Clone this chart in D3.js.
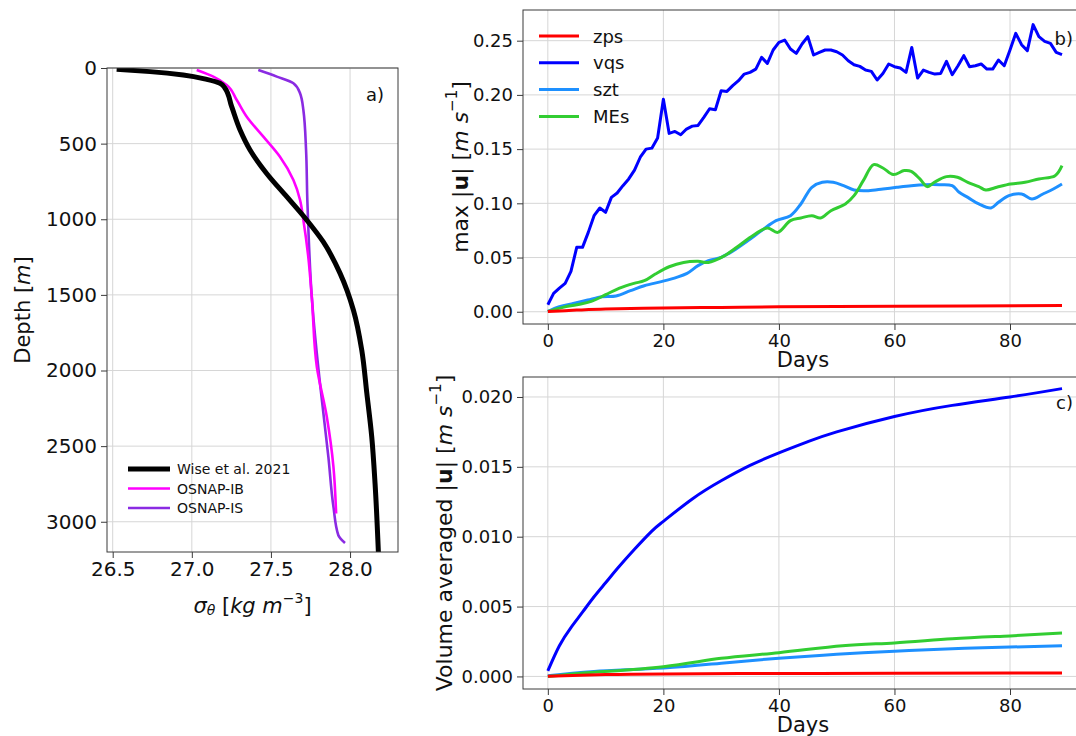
<!DOCTYPE html>
<html>
<head>
<meta charset="utf-8">
<script src="https://cdn.jsdelivr.net/npm/d3@7"></script>
<style>
  html, body { margin: 0; padding: 0; background: #fff; }
  svg { display: block; font-family: "DejaVu Sans", sans-serif; }
</style>
</head>
<body>
<svg id="fig" width="1076" height="736"></svg>
<script>
// ---------- panel a: density profiles ----------
const depthTicks = [0, 500, 1000, 1500, 2000, 2500, 3000];
const sigmaTicks = [26.5, 27.0, 27.5, 28.0];

const wiseSigma = [26.525, 26.736, 26.946, 27.094, 27.178, 27.21, 27.252, 27.305, 27.368, 27.473, 27.6, 27.726, 27.831, 27.937, 28.021, 28.074, 28.106, 28.137, 28.158, 28.179];
const wiseDepth = [9, 24, 46, 75, 101, 134, 256, 410, 542, 697, 851, 1005, 1150, 1358, 1600, 1865, 2151, 2438, 2747, 3200];

const ibSigma = [27.031, 27.136, 27.22, 27.284, 27.347, 27.452, 27.557, 27.642, 27.684, 27.705, 27.736, 27.758, 27.79, 27.853, 27.895, 27.912];
const ibDepth = [13, 57, 112, 212, 322, 454, 587, 741, 873, 1005, 1248, 1512, 1975, 2306, 2637, 2945];

const isSigma = [27.42, 27.537, 27.642, 27.684, 27.705, 27.722, 27.73, 27.736, 27.758, 27.768, 27.81, 27.863, 27.895, 27.926, 27.968];
const isDepth = [13, 57, 101, 167, 278, 542, 873, 1050, 1512, 1645, 2085, 2571, 2901, 3089, 3140];

const profileNames = ["Wise et al. 2021", "OSNAP-IB", "OSNAP-IS"];

// ---------- panels b and c: time series ----------
const dayTicks = [0, 20, 40, 60, 80];
const maxTicks = [0.00, 0.05, 0.10, 0.15, 0.20, 0.25];
const volTicks = [0.000, 0.005, 0.010, 0.015, 0.020];
const seriesNames = ["zps", "vqs", "szt", "MEs"];

// daily maximum speed, vqs (days 0..89)
const vqsMax = [0.0065, 0.0169, 0.0218, 0.0262, 0.0372, 0.0594, 0.0594, 0.0732, 0.0886, 0.0957,
  0.0917, 0.1055, 0.1095, 0.1163, 0.1225, 0.1306, 0.1425, 0.1500, 0.1509, 0.1602,
  0.1960, 0.1645, 0.1663, 0.1632, 0.1685, 0.1712, 0.1718, 0.1792, 0.1872, 0.1863,
  0.2038, 0.2032, 0.2085, 0.2131, 0.2192, 0.2208, 0.2238, 0.2346, 0.2291, 0.2414,
  0.2485, 0.2506, 0.2423, 0.2383, 0.2469, 0.2537, 0.2368, 0.2392, 0.2414, 0.2414,
  0.2398, 0.2368, 0.2315, 0.2278, 0.2263, 0.2229, 0.2217, 0.2137, 0.2198, 0.2285,
  0.2260, 0.2248, 0.2208, 0.2438, 0.2155, 0.2229, 0.2208, 0.2192, 0.2198, 0.2309,
  0.2186, 0.2269, 0.2362, 0.2260, 0.2269, 0.2285, 0.2238, 0.2238, 0.2322, 0.2269,
  0.2414, 0.2568, 0.2463, 0.2408, 0.2648, 0.2537, 0.2494, 0.2475, 0.2392, 0.2371];

const zpsMaxDays = [0, 5, 10, 20, 30, 40, 60, 89];
const zpsMax = [0.0003, 0.0015, 0.0025, 0.0035, 0.0040, 0.0045, 0.0050, 0.0057];

const sztMaxDays = [0, 2, 4.4, 6.9, 9.4, 11.8, 14.3, 16.7, 19.8, 22.3, 24.1, 26, 27.8, 30, 32.1, 34.6, 37, 39.5, 42, 43.8, 45.7, 47.5, 49.4, 51.2, 53, 55.5, 58, 60.4, 62.9, 65.4, 67.8, 70, 71.2, 72.7, 74.6, 76.7, 78, 79.8, 82, 83.8, 85.7, 87.5, 89];
const sztMax = [0.0003, 0.0046, 0.0077, 0.0108, 0.0138, 0.0145, 0.0194, 0.0240, 0.0280, 0.0317, 0.0354, 0.0425, 0.0471, 0.0502, 0.0563, 0.0655, 0.0748, 0.0840, 0.0886, 0.0994, 0.1148, 0.1194, 0.1194, 0.1163, 0.1123, 0.1117, 0.1132, 0.1148, 0.1163, 0.1172, 0.1172, 0.1163, 0.1102, 0.1055, 0.0994, 0.0957, 0.1009, 0.1071, 0.1086, 0.1040, 0.1086, 0.1132, 0.1178];

const mesMaxDays = [0, 2.6, 5, 7.5, 10, 12.4, 14.9, 16.7, 18.6, 21, 23.5, 26, 27.8, 30.3, 32.7, 35.2, 38, 39.8, 42, 43.8, 45.7, 47.2, 49, 51.5, 53, 54.6, 56.4, 58, 59.8, 61.7, 62.9, 64.4, 65.7, 66.9, 69, 70.9, 72.7, 74.6, 75.8, 77.7, 80.1, 82.6, 85, 87.8, 89];
const mesMax = [0.0003, 0.0040, 0.0065, 0.0095, 0.0157, 0.0218, 0.0262, 0.0286, 0.0348, 0.0415, 0.0455, 0.0465, 0.0455, 0.0508, 0.0594, 0.0692, 0.0772, 0.0732, 0.0840, 0.0865, 0.0886, 0.0865, 0.0932, 0.0994, 0.1071, 0.1209, 0.1357, 0.1326, 0.1265, 0.1302, 0.1295, 0.1225, 0.1154, 0.1194, 0.1246, 0.1240, 0.1194, 0.1154, 0.1123, 0.1148, 0.1178, 0.1194, 0.1225, 0.1255, 0.1348];

// volume-averaged speed
const zpsVolDays = [0, 10, 20, 40, 60, 89];
const zpsVol = [0.00002, 0.00013, 0.00018, 0.00021, 0.00023, 0.00025];

const vqsVolDays = [0, 2, 4, 6, 8, 10, 12, 15, 18, 20, 25, 30, 35, 40, 45, 50, 60, 70, 80, 89];
const vqsVol = [0.0004, 0.0022, 0.0035, 0.0046, 0.0057, 0.0067, 0.0077, 0.0091, 0.0104, 0.0111, 0.0127, 0.0140, 0.0151, 0.0160, 0.0168, 0.0175, 0.0186, 0.0194, 0.0200, 0.0206];

const sztVolDays = [0, 8, 20, 30, 40, 50, 60, 70, 80, 89];
const sztVol = [0.00005, 0.00036, 0.0006, 0.00095, 0.0013, 0.00158, 0.0018, 0.00198, 0.0021, 0.0022];

const mesVolDays = [0, 8, 20, 30, 40, 51, 60, 70, 80, 89];
const mesVol = [0.0, 0.0003, 0.0007, 0.0013, 0.0017, 0.0022, 0.0024, 0.0027, 0.0029, 0.0031];

// ---------- drawing ----------
const svg = d3.select("#fig");
const FRAME = "#3a3a3a", GRID = "#d6d6d6", TXT = "#111";
const smooth = d3.curveCatmullRom.alpha(0.5);

function toPairs(xs, ys) { return xs.map((x, i) => [x, ys[i]]); }

function drawFrame(g, x0, y0, x1, y1) {
  g.append("rect").attr("x", x0).attr("y", y0).attr("width", x1 - x0).attr("height", y1 - y0)
    .attr("fill", "none").attr("stroke", FRAME).attr("stroke-width", 1);
}

function styleAxis(sel, fontSize) {
  sel.select(".domain").remove();
  sel.selectAll(".tick line").attr("stroke", FRAME).attr("stroke-width", 1);
  sel.selectAll(".tick text").attr("fill", TXT).attr("font-size", fontSize)
    .attr("font-family", "DejaVu Sans, sans-serif");
}

// ===== panel a =====
const A = { left: 107, right: 398, top: 68, bottom: 552 };
const xa = d3.scaleLinear().domain([26.464, 28.303]).range([A.left, A.right]);
const ya = d3.scaleLinear().domain([0, 3200]).range([A.top, A.bottom]);
const ga = svg.append("g");

// grid
ga.selectAll(".gx").data(sigmaTicks).join("line")
  .attr("x1", d => xa(d)).attr("x2", d => xa(d)).attr("y1", A.top).attr("y2", A.bottom)
  .attr("stroke", GRID).attr("stroke-width", 1);
ga.selectAll(".gy").data(depthTicks).join("line")
  .attr("y1", d => ya(d)).attr("y2", d => ya(d)).attr("x1", A.left).attr("x2", A.right)
  .attr("stroke", GRID).attr("stroke-width", 1);

svg.append("clipPath").attr("id", "clipA").append("rect")
  .attr("x", A.left).attr("y", A.top).attr("width", A.right - A.left).attr("height", A.bottom - A.top);

const profLine = d3.line().x(d => xa(d[0])).y(d => ya(d[1])).curve(d3.curveMonotoneY);
const profiles = [
  { name: profileNames[0], pts: toPairs(wiseSigma, wiseDepth), color: "#000000", w: 5 },
  { name: profileNames[1], pts: toPairs(ibSigma, ibDepth), color: "#ff00ff", w: 2.6 },
  { name: profileNames[2], pts: toPairs(isSigma, isDepth), color: "#8a2be2", w: 2.6 }
];
const gaLines = ga.append("g").attr("clip-path", "url(#clipA)");
[profiles[2], profiles[1], profiles[0]].forEach(p => {
  gaLines.append("path").attr("d", profLine(p.pts)).attr("fill", "none")
    .attr("stroke", p.color).attr("stroke-width", p.w).attr("stroke-linejoin", "round");
});
drawFrame(ga, A.left, A.top, A.right, A.bottom);

const axA_x = ga.append("g").attr("transform", `translate(0,${A.bottom})`)
  .call(d3.axisBottom(xa).tickValues(sigmaTicks).tickFormat(d3.format(".1f")).tickSizeOuter(0).tickSize(6).tickPadding(4));
styleAxis(axA_x, 20);
const axA_y = ga.append("g").attr("transform", `translate(${A.left},0)`)
  .call(d3.axisLeft(ya).tickValues(depthTicks).tickFormat(d3.format("d")).tickSizeOuter(0).tickSize(6).tickPadding(4));
styleAxis(axA_y, 20);

// legend a
const legA = ga.append("g");
profiles.forEach((p, i) => {
  const y = 469 + i * 19.5;
  legA.append("line").attr("x1", 128).attr("x2", 170).attr("y1", y).attr("y2", y)
    .attr("stroke", p.color).attr("stroke-width", p.w);
  legA.append("text").attr("x", 177).attr("y", y).attr("dominant-baseline", "central")
    .attr("font-size", 14).attr("fill", TXT).text(p.name);
});
ga.append("text").attr("x", 384).attr("y", 94).attr("text-anchor", "end")
  .attr("dominant-baseline", "central").attr("font-size", 18).attr("fill", TXT).text("a)");

// axis labels a
const xlabA = ga.append("text").attr("x", (A.left + A.right) / 2).attr("y", 606)
  .attr("text-anchor", "middle").attr("dominant-baseline", "central").attr("font-size", 21).attr("fill", TXT);
xlabA.append("tspan").attr("font-style", "italic").text("σ");
xlabA.append("tspan").attr("font-style", "italic").attr("font-size", 14).attr("baseline-shift", "-25%").text("θ");
xlabA.append("tspan").text(" [");
xlabA.append("tspan").attr("font-style", "italic").text("kg m");
xlabA.append("tspan").attr("font-size", 14).attr("baseline-shift", "55%").text("−3");
xlabA.append("tspan").text("]");

const ylabA = ga.append("text").attr("transform", `translate(23,${(A.top + A.bottom) / 2}) rotate(-90)`)
  .attr("text-anchor", "middle").attr("dominant-baseline", "central").attr("font-size", 21).attr("fill", TXT);
ylabA.append("tspan").text("Depth [");
ylabA.append("tspan").attr("font-style", "italic").text("m");
ylabA.append("tspan").text("]");

// ===== panels b and c =====
const dayDomain = [-4.3, 93.5];
const dayRange = [523, 1088];
const colors = { zps: "#ff0000", vqs: "#0000ff", szt: "#1e90ff", MEs: "#32cd32" };

function timePanel(cfg) {
  const x = d3.scaleLinear().domain(dayDomain).range(dayRange);
  const y = d3.scaleLinear().domain(cfg.yDomain).range([cfg.bottom, cfg.top]);
  const g = svg.append("g");
  g.selectAll(null).data(dayTicks).join("line")
    .attr("x1", d => x(d)).attr("x2", d => x(d)).attr("y1", cfg.top).attr("y2", cfg.bottom)
    .attr("stroke", GRID).attr("stroke-width", 1);
  g.selectAll(null).data(cfg.ticks).join("line")
    .attr("y1", d => y(d)).attr("y2", d => y(d)).attr("x1", dayRange[0]).attr("x2", dayRange[1])
    .attr("stroke", GRID).attr("stroke-width", 1);

  const clipId = "clip" + cfg.id;
  svg.append("clipPath").attr("id", clipId).append("rect")
    .attr("x", dayRange[0]).attr("y", cfg.top).attr("width", dayRange[1] - dayRange[0]).attr("height", cfg.bottom - cfg.top);
  const gl = g.append("g").attr("clip-path", `url(#${clipId})`);
  cfg.series.forEach(s => {
    const line = d3.line().x(d => x(d[0])).y(d => y(d[1])).curve(s.curve);
    gl.append("path").attr("d", line(s.pts)).attr("fill", "none")
      .attr("stroke", colors[s.name]).attr("stroke-width", 3)
      .attr("stroke-linejoin", "round").attr("stroke-linecap", "butt");
  });
  drawFrame(g, dayRange[0], cfg.top, dayRange[1], cfg.bottom);

  const ax = g.append("g").attr("transform", `translate(0,${cfg.bottom})`)
    .call(d3.axisBottom(x).tickValues(dayTicks).tickFormat(d3.format("d")).tickSizeOuter(0).tickSize(6).tickPadding(4));
  styleAxis(ax, 18);
  const ay = g.append("g").attr("transform", `translate(${dayRange[0]},0)`)
    .call(d3.axisLeft(y).tickValues(cfg.ticks).tickFormat(d3.format(cfg.fmt)).tickSizeOuter(0).tickSize(6).tickPadding(4));
  styleAxis(ay, 18);

  g.append("text").attr("x", 803).attr("y", cfg.bottom + 36).attr("text-anchor", "middle")
    .attr("dominant-baseline", "central").attr("font-size", 21).attr("fill", TXT).text("Days");

  const yl = g.append("text").attr("transform", `translate(${cfg.ylabX},${(cfg.top + cfg.bottom) / 2}) rotate(-90)`)
    .attr("text-anchor", "middle").attr("dominant-baseline", "central").attr("font-size", 22).attr("fill", TXT);
  yl.append("tspan").text(cfg.ylabPrefix + "|");
  yl.append("tspan").attr("font-weight", "bold").text("u");
  yl.append("tspan").text("| [");
  yl.append("tspan").attr("font-style", "italic").text("m s");
  yl.append("tspan").attr("font-size", 15).attr("baseline-shift", "55%").text("−1");
  yl.append("tspan").text("]");

  g.append("text").attr("x", 1073).attr("y", cfg.tagY).attr("text-anchor", "end")
    .attr("dominant-baseline", "central").attr("font-size", 18).attr("fill", TXT).text(cfg.tag);
  return g;
}

const gb = timePanel({
  id: "B", top: 10, bottom: 324, yDomain: [-0.0113, 0.2783], ticks: maxTicks, fmt: ".2f",
  ylabX: 460, ylabPrefix: "max ", tag: "b)", tagY: 38,
  series: [
    { name: "vqs", pts: vqsMax.map((v, i) => [i, v]), curve: d3.curveLinear },
    { name: "szt", pts: toPairs(sztMaxDays, sztMax), curve: smooth },
    { name: "MEs", pts: toPairs(mesMaxDays, mesMax), curve: smooth },
    { name: "zps", pts: toPairs(zpsMaxDays, zpsMax), curve: smooth }
  ]
});

// legend b
seriesNames.forEach((n, i) => {
  const y = 36 + i * 26.8;
  gb.append("line").attr("x1", 539).attr("x2", 579).attr("y1", y).attr("y2", y)
    .attr("stroke", colors[n]).attr("stroke-width", 3);
  gb.append("text").attr("x", 593).attr("y", y).attr("dominant-baseline", "central")
    .attr("font-size", 18).attr("fill", TXT).text(n);
});

timePanel({
  id: "C", top: 377, bottom: 689, yDomain: [-0.0009, 0.02143], ticks: volTicks, fmt: ".3f",
  ylabX: 444, ylabPrefix: "Volume averaged ", tag: "c)", tagY: 402,
  series: [
    { name: "vqs", pts: toPairs(vqsVolDays, vqsVol), curve: d3.curveNatural },
    { name: "szt", pts: toPairs(sztVolDays, sztVol), curve: d3.curveNatural },
    { name: "MEs", pts: toPairs(mesVolDays, mesVol), curve: d3.curveNatural },
    { name: "zps", pts: toPairs(zpsVolDays, zpsVol), curve: d3.curveNatural }
  ]
});
</script>
</body>
</html>
